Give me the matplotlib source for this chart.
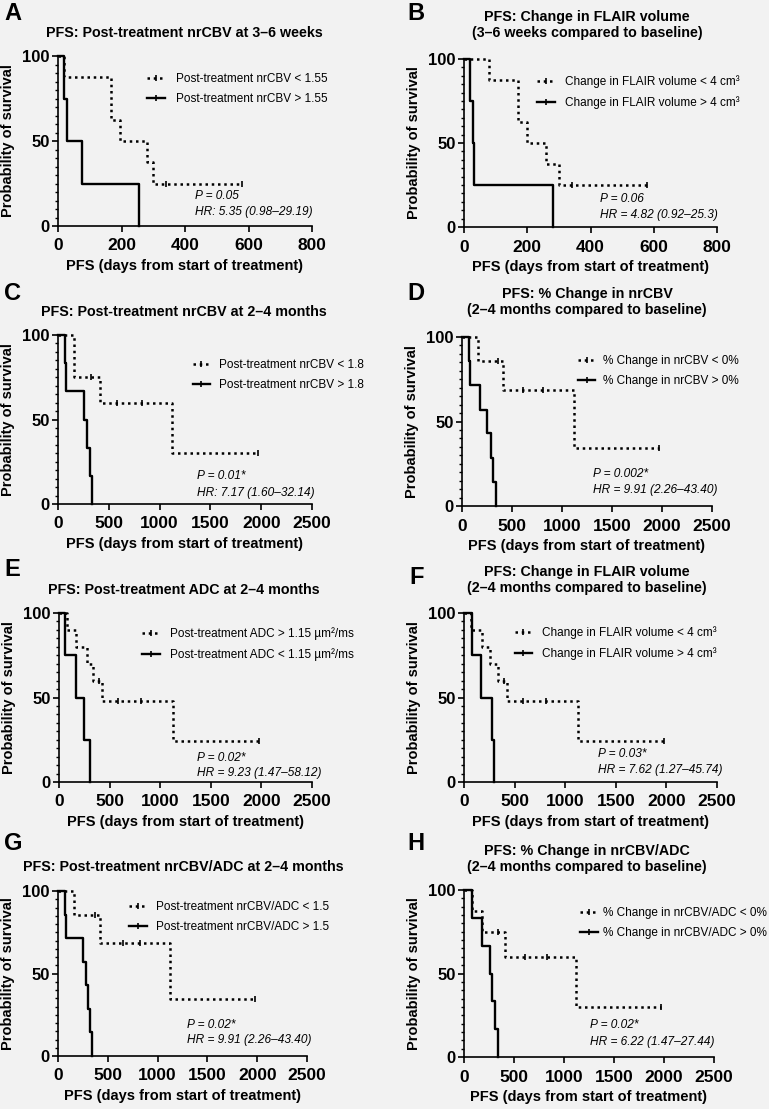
import numpy as np
import matplotlib
matplotlib.use('Agg')
import matplotlib.pyplot as plt
from matplotlib.lines import Line2D
from matplotlib.ticker import MultipleLocator

plt.rcParams['font.family'] = ['Liberation Sans', 'DejaVu Sans']

# ---- data (days, % survival) ----
# A: post-treatment nrCBV at 3-6 weeks
A_lo_t = [0, 18, 166, 195, 279, 300]
A_lo_s = [100, 87.5, 62.5, 50, 37.5, 25]
A_lo_cens = [340, 579]
A_hi_t = [0, 19, 29, 77, 256]
A_hi_s = [100, 75, 50, 25, 0]

# B: change in FLAIR volume, 3-6 weeks
B_lo_t = [0, 79, 172, 198, 258, 300]
B_lo_s = [100, 87.5, 62.5, 50, 37.5, 25]
B_lo_cens = [340, 579]
B_hi_t = [0, 18, 28, 33, 283]
B_hi_s = [100, 75, 50, 25, 0]

# C: post-treatment nrCBV at 2-4 months
C_lo_t = [0, 155, 411, 1118]
C_lo_s = [100, 75, 60, 30]
C_lo_cens = [329, 576, 822, 1967]
C_hi_t = [0, 66, 82, 253, 286, 312, 339]
C_hi_s = [100, 83.3, 66.7, 50, 33.3, 16.7, 0]

# D: % change in nrCBV, 2-4 months
D_lo_t = [0, 160, 411, 1123]
D_lo_s = [100, 85.7, 68.6, 34.3]
D_lo_cens = [361, 612, 812, 1972]
D_hi_t = [0, 67, 84, 177, 251, 287, 314, 341]
D_hi_s = [100, 85.7, 71.4, 57.1, 42.9, 28.6, 14.3, 0]

# E: post-treatment ADC at 2-4 months
E_lo_t = [0, 76, 168, 280, 332, 421, 1122]
E_lo_s = [100, 90, 80, 70, 60, 48, 24]
E_lo_cens = [395, 585, 815, 1974]
E_hi_t = [0, 59, 168, 250, 306]
E_hi_s = [100, 75, 50, 25, 0]

# F: change in FLAIR volume, 2-4 months
F_lo_t = [0, 69, 174, 257, 339, 428, 1122]
F_lo_s = [100, 90, 80, 70, 60, 48, 24]
F_lo_cens = [400, 585, 815, 1974]
F_hi_t = [0, 82, 164, 273, 299]
F_hi_s = [100, 75, 50, 25, 0]

# G: post-treatment nrCBV/ADC at 2-4 months
G_lo_t = [0, 158, 419, 1124]
G_lo_s = [100, 85.7, 68.6, 34.3]
G_lo_cens = [369, 654, 822, 1973]
G_hi_t = [0, 67, 84, 252, 279, 302, 326, 346]
G_hi_s = [100, 85.7, 71.4, 57.1, 42.9, 28.6, 14.3, 0]

# H: % change in nrCBV/ADC, 2-4 months
H_lo_t = [0, 83, 177, 410, 1117]
H_lo_s = [100, 87.5, 75, 60, 30]
H_lo_cens = [343, 610, 827, 1970]
H_hi_t = [0, 77, 177, 260, 283, 310, 343]
H_hi_s = [100, 83.3, 66.7, 50, 33.3, 16.7, 0]

letters = ['A', 'B', 'C', 'D', 'E', 'F', 'G', 'H']
titles = [
    'PFS: Post-treatment nrCBV at 3\u20136 weeks',
    'PFS: Change in FLAIR volume\n(3\u20136 weeks compared to baseline)',
    'PFS: Post-treatment nrCBV at 2\u20134 months',
    'PFS: % Change in nrCBV\n(2\u20134 months compared to baseline)',
    'PFS: Post-treatment ADC at 2\u20134 months',
    'PFS: Change in FLAIR volume\n(2\u20134 months compared to baseline)',
    'PFS: Post-treatment nrCBV/ADC at 2\u20134 months',
    'PFS: % Change in nrCBV/ADC\n(2\u20134 months compared to baseline)',
]
legend_labels = [
    ('Post-treatment nrCBV < 1.55', 'Post-treatment nrCBV > 1.55'),
    ('Change in FLAIR volume < 4 cm\u00b3', 'Change in FLAIR volume > 4 cm\u00b3'),
    ('Post-treatment nrCBV < 1.8', 'Post-treatment nrCBV > 1.8'),
    ('% Change in nrCBV < 0%', '% Change in nrCBV > 0%'),
    ('Post-treatment ADC > 1.15 \u00b5m\u00b2/ms', 'Post-treatment ADC < 1.15 \u00b5m\u00b2/ms'),
    ('Change in FLAIR volume < 4 cm\u00b3', 'Change in FLAIR volume > 4 cm\u00b3'),
    ('Post-treatment nrCBV/ADC < 1.5', 'Post-treatment nrCBV/ADC > 1.5'),
    ('% Change in nrCBV/ADC < 0%', '% Change in nrCBV/ADC > 0%'),
]
p_texts = ['P = 0.05', 'P = 0.06', 'P = 0.01*', 'P = 0.002*',
           'P = 0.02*', 'P = 0.03*', 'P = 0.02*', 'P = 0.02*']
hr_texts = ['HR: 5.35 (0.98\u201329.19)', 'HR = 4.82 (0.92\u201325.3)',
            'HR: 7.17 (1.60\u201332.14)', 'HR = 9.91 (2.26\u201343.40)',
            'HR = 9.23 (1.47\u201358.12)', 'HR = 7.62 (1.27\u201345.74)',
            'HR = 9.91 (2.26\u201343.40)', 'HR = 6.22 (1.47\u201327.44)']
x_max = [800, 800, 2500, 2500, 2500, 2500, 2500, 2500]
x_step = [200, 200, 500, 500, 500, 500, 500, 500]

curves = [
    (A_lo_t, A_lo_s, A_lo_cens, A_hi_t, A_hi_s),
    (B_lo_t, B_lo_s, B_lo_cens, B_hi_t, B_hi_s),
    (C_lo_t, C_lo_s, C_lo_cens, C_hi_t, C_hi_s),
    (D_lo_t, D_lo_s, D_lo_cens, D_hi_t, D_hi_s),
    (E_lo_t, E_lo_s, E_lo_cens, E_hi_t, E_hi_s),
    (F_lo_t, F_lo_s, F_lo_cens, F_hi_t, F_hi_s),
    (G_lo_t, G_lo_s, G_lo_cens, G_hi_t, G_hi_s),
    (H_lo_t, H_lo_s, H_lo_cens, H_hi_t, H_hi_s),
]

# ---- layout (pixels in a 769x1109 canvas) ----
W, H = 769, 1109
# left, right, top, bottom of each axes
boxes = [(58, 312, 56, 226), (464, 717, 59, 227),
         (58, 312, 335, 504), (462, 712, 337, 506),
         (59, 312, 613, 782), (464, 717, 613, 782),
         (58, 307, 891, 1056), (464, 714, 890, 1057)]
title_y = [33, 25, 312, 302, 590, 580, 867, 859]
title_x = [184, 587, 184, 587, 184, 587, 183, 587]
letter_xy = [(4, 13), (407, 13), (4, 293), (407, 293),
             (4, 569), (409, 577), (4, 844), (407, 843)]
leg_xy = [(0.35, 0.90), (0.29, 0.905), (0.53, 0.857), (0.463, 0.894),
          (0.33, 0.916), (0.20, 0.92), (0.286, 0.938), (0.464, 0.898)]
leg_pad = [1.0, 0.8, 0.7, 0.6, 0.8, 0.8, 0.8, 0.45]
ann_xy = [(0.54, 0.175, 0.08), (0.537, 0.167, 0.073), (0.546, 0.164, 0.065),
          (0.525, 0.188, 0.097), (0.546, 0.144, 0.056), (0.53, 0.164, 0.069),
          (0.517, 0.188, 0.097), (0.504, 0.19, 0.09)]

bg = '#f2f2f2'
dot_ls = (0, (1, 1.5))

fig = plt.figure(figsize=(W / 100, H / 100), dpi=100, facecolor=bg)

for i in range(8):
    l, r, t, b = boxes[i]
    ax = fig.add_axes([l / W, 1 - b / H, (r - l) / W, (b - t) / H])
    ax.set_facecolor(bg)
    lo_t, lo_s, lo_c, hi_t, hi_s = curves[i]

    # dotted group with censor ticks
    end_lo = max(lo_t[-1], max(lo_c))
    ax.step(lo_t + [end_lo], lo_s + [lo_s[-1]], where='post', color='black',
            lw=1.8, ls=dot_ls, clip_on=False)
    idx = np.searchsorted(lo_t, lo_c, side='right') - 1
    ax.plot(lo_c, np.array(lo_s)[idx], ls='none', marker='|', ms=4, mew=1.2,
            color='black', clip_on=False)

    # solid group
    ax.step(hi_t, hi_s, where='post', color='black', lw=1.7, clip_on=False)

    ax.set_xlim(0, x_max[i])
    ax.set_ylim(0, 100)
    ax.xaxis.set_major_locator(MultipleLocator(x_step[i]))
    ax.yaxis.set_major_locator(MultipleLocator(50))
    ax.yaxis.set_minor_locator(MultipleLocator(5))
    for s in ['top', 'right']:
        ax.spines[s].set_visible(False)
    for s in ['left', 'bottom']:
        ax.spines[s].set_linewidth(1.2)
    ax.tick_params(axis='x', which='major', direction='out', length=4,
                   width=1.2, labelsize=12.5, pad=5)
    ax.tick_params(axis='y', which='major', direction='out', length=4,
                   width=1.2, labelsize=12, pad=2)
    ax.tick_params(axis='y', which='minor', direction='out', length=2.5,
                   width=1.0)
    for lab in ax.get_xticklabels() + ax.get_yticklabels():
        lab.set_fontweight('bold')
    ax.set_xlabel('PFS (days from start of treatment)', fontsize=10.5,
                  fontweight='bold', labelpad=4)
    ax.set_ylabel('Probability of survival', fontsize=10.5,
                  fontweight='bold', labelpad=5)

    handles = [Line2D([0], [0], color='black', lw=1.8, ls=dot_ls,
                      marker='|', ms=4, mew=1.2),
               Line2D([0], [0], color='black', lw=1.7,
                      marker='|', ms=4, mew=1.2)]
    ax.legend(handles, legend_labels[i], loc='upper left',
              bbox_to_anchor=leg_xy[i], frameon=False, fontsize=8.5,
              handlelength=1.5, handletextpad=leg_pad[i], labelspacing=0.7,
              borderpad=0, borderaxespad=0, numpoints=1)

    ax_x, p_y, hr_y = ann_xy[i]
    ax.text(ax_x, p_y, p_texts[i], transform=ax.transAxes, fontsize=8.6,
            style='italic', va='center', ha='left')
    ax.text(ax_x, hr_y, hr_texts[i], transform=ax.transAxes, fontsize=8.6,
            style='italic', va='center', ha='left')

    fig.text(title_x[i] / W, 1 - title_y[i] / H, titles[i], fontsize=10.3,
             fontweight='bold', ha='center', va='center', linespacing=1.15)
    lx, ly = letter_xy[i]
    fig.text(lx / W, 1 - ly / H, letters[i], fontsize=17, fontweight='bold',
             ha='left', va='center')

fig.savefig('out.png', dpi=100, facecolor=bg)
